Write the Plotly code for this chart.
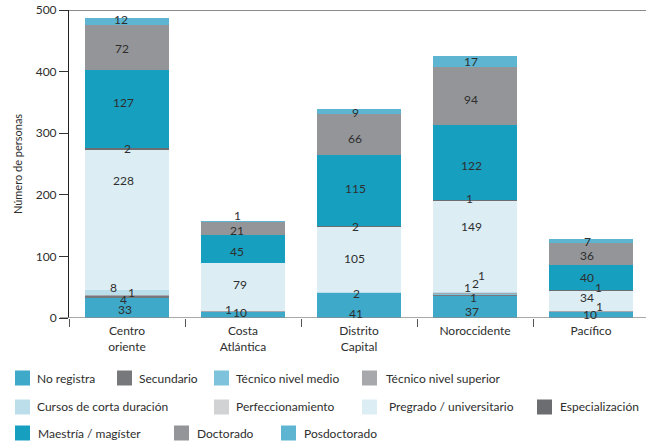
import plotly.graph_objects as go

# ---------------- data ----------------
regions = ["Centro oriente", "Costa Atlántica", "Distrito Capital", "Noroccidente", "Pacífico"]
region_ticks = ["Centro<br>oriente", "Costa<br>Atlántica", "Distrito<br>Capital", "Noroccidente", "Pacífico"]

series_names = ["No registra", "Secundario", "Técnico nivel medio", "Técnico nivel superior",
                "Cursos de corta duración", "Perfeccionamiento", "Pregrado / universitario",
                "Especialización", "Maestría / magíster", "Doctorado", "Posdoctorado"]

no_registra = [33, 10, 41, 37, 10]
secundario = [4, 0, 0, 1, 0]
tecnico_medio = [0, 0, 0, 1, 0]
tecnico_superior = [1, 1, 0, 2, 1]
cursos_corta = [8, 0, 2, 1, 0]
perfeccionamiento = [0, 0, 0, 0, 0]
pregrado = [228, 79, 105, 149, 34]
especializacion = [2, 0, 2, 1, 1]
maestria = [127, 45, 115, 122, 40]
doctorado = [72, 21, 66, 94, 36]
posdoctorado = [12, 1, 9, 17, 7]

series_values = [no_registra, secundario, tecnico_medio, tecnico_superior, cursos_corta,
                 perfeccionamiento, pregrado, especializacion, maestria, doctorado, posdoctorado]

y_ticks = [0, 100, 200, 300, 400, 500]

# ---------------- styles ----------------
colors = ["#3ea9c8", "#77787b", "#7fc2dc", "#a6a8ab", "#bcdeea", "#d1d2d4",
          "#dcedf4", "#6c6d70", "#179fc0", "#939598", "#5db5d2"]

FONT = "Lato, 'Open Sans', sans-serif"
TXT = "#2e2e2e"

# label offsets (pixels) keyed by (region index, series index); default (-4, 0)
label_shift = {
    (0, 0): (-2, -2), (0, 1): (-4, -3), (0, 3): (4, 2), (0, 4): (-14, 5), (0, 6): (-4, 39),
    (0, 7): (0, 0), (0, 8): (-4, 6), (0, 9): (-5, -1), (0, 10): (-6, 2),
    (1, 0): (-3, 2), (1, 3): (-15, 2), (1, 6): (-3, 2), (1, 8): (-6, -3), (1, 9): (-6, -2),
    (1, 10): (-6, 6),
    (2, 0): (-3, -8), (2, 4): (-3, -1), (2, 6): (-5, 1), (2, 8): (-4, 2), (2, 9): (-4, -4),
    (2, 10): (-4, -1),
    (3, 0): (-3, -5), (3, 1): (-2, -3), (3, 2): (-8, 7), (3, 3): (0, 10), (3, 4): (6, 17),
    (3, 6): (-4, 20), (3, 7): (-6, 2), (3, 8): (-4, -3), (3, 9): (-4, -4),
    (4, 0): (-1, 0), (4, 3): (8, 5), (4, 6): (-4, 3), (4, 7): (7, 2), (4, 9): (-4, -2),
    (4, 10): (-4, -1),
}

# geometry (page body margin removed via post_script, so figure coords = reference coords)
W, H = 646, 441
ML, MR, MT = 69, 0, 10
MB = H - 318
PW = W - ML - MR
PH = H - MT - MB


def px2x(px):
    return (px - ML) / PW


def py2y(py):
    return (H - MB - py) / PH


fig = go.Figure()
for name, vals, col in zip(series_names, series_values, colors):
    fig.add_trace(go.Bar(
        x=regions, y=vals, name=name,
        marker=dict(color=col, line=dict(width=0)),
        showlegend=False,
    ))

# segment value labels
annotations = []
cum = [0] * len(regions)
for si, vals in enumerate(series_values):
    for ri, v in enumerate(vals):
        if v > 0:
            dx, dy = label_shift.get((ri, si), (-4, 0))
            annotations.append(dict(
                x=regions[ri], y=cum[ri] + v / 2, xref="x", yref="y",
                text=str(v), showarrow=False, xshift=dx, yshift=dy,
                font=dict(family=FONT, size=12, color=TXT),
                xanchor="center", yanchor="middle",
            ))
        cum[ri] += v

# manual legend layout: (series index, swatch x px, text x px, row center y px)
legend_items = [
    (0, 15, 35, 378), (1, 117, 137, 378), (2, 214, 234, 378), (3, 362, 384, 378),
    (4, 15, 35, 407), (5, 214, 234, 407), (6, 362, 387, 407), (7, 537, 558, 407),
    (8, 15, 36, 433), (9, 174, 195, 433), (10, 281, 302, 433),
]
shapes = []
SW = 15
for si, sx, tx, cy in legend_items:
    shapes.append(dict(type="rect", xref="paper", yref="paper",
                       x0=px2x(sx), x1=px2x(sx + SW), y0=py2y(cy + SW / 2), y1=py2y(cy - SW / 2),
                       fillcolor=colors[si], line=dict(width=0), layer="above"))
    annotations.append(dict(x=px2x(tx), y=py2y(cy), xref="paper", yref="paper",
                            text=series_names[si], showarrow=False, xanchor="left",
                            yanchor="middle", font=dict(family=FONT, size=12, color=TXT)))

# top and baseline rules
shapes.append(dict(type="line", xref="paper", yref="y", x0=px2x(60), x1=1, y0=500, y1=500,
                   line=dict(color="#8c8c8c", width=2), layer="below"))
shapes.append(dict(type="line", xref="paper", yref="y", x0=px2x(60), x1=1, y0=0, y1=0,
                   line=dict(color="#8c8c8c", width=1.5), layer="above"))

fig.update_layout(
    width=W, height=H,
    margin=dict(l=ML, r=MR, t=MT, b=MB, pad=0),
    barmode="stack", bargap=0.276,
    plot_bgcolor="white", paper_bgcolor="white",
    font=dict(family=FONT, size=12, color=TXT),
    showlegend=False,
    annotations=annotations, shapes=shapes,
)
fig.update_xaxes(
    type="category", categoryorder="array", categoryarray=regions,
    tickvals=regions, ticktext=region_ticks,
    range=[-0.5, -0.5 + PW / 116.0],
    tickson="boundaries", ticks="outside", ticklen=8, tickcolor="#555555", tickwidth=1,
    ticklabelstandoff=4,
    showline=False, showgrid=False, zeroline=False,
    tickfont=dict(family=FONT, size=12, color=TXT),
)
fig.update_yaxes(
    range=[0, 500], tickvals=y_ticks,
    ticks="outside", ticklen=9, tickcolor="#333333", tickwidth=1,
    ticklabeloverflow="allow",
    showline=True, linecolor="#222222", linewidth=1,
    showgrid=False, zeroline=False,
    tickfont=dict(family=FONT, size=12, color=TXT),
    title=dict(text="Número de personas", font=dict(family=FONT, size=11, color=TXT), standoff=10),
)

fig.write_html("out.html", config={"displayModeBar": False},
               post_script="document.body.style.margin='0';")
